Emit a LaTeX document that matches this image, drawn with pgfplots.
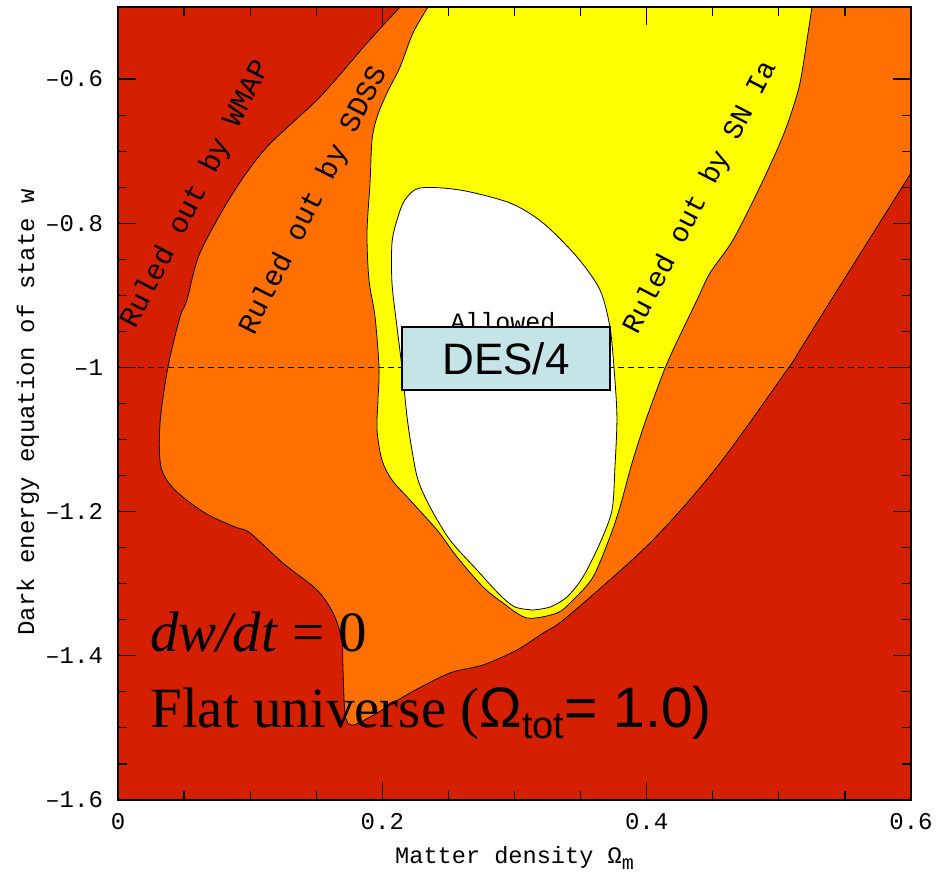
\documentclass[border=0pt]{standalone}
\usepackage{fontspec}
\usepackage{pgfplots}
\pgfplotsset{compat=1.18}
\setmainfont{Liberation Serif}
\newfontfamily\plotfont{Liberation Mono}
\newfontfamily\arialfont{Liberation Sans}

\definecolor{wmapred}{RGB}{212,32,0}
\definecolor{sdssorange}{RGB}{255,112,0}
\definecolor{snyellow}{RGB}{255,255,0}
\definecolor{desblue}{RGB}{196,228,232}

\begin{document}
\begin{tikzpicture}
\useasboundingbox (0,0) rectangle (474pt,438pt);
\begin{axis}[
  at={(59pt,38pt)}, anchor=south west,
  width=396.5pt, height=396.5pt, scale only axis,
  xmin=0, xmax=0.6, ymin=-1.6, ymax=-0.5,
  axis background/.style={fill=wmapred},
  axis on top,
  tick pos=both, tick align=inside,
  major tick length=9pt, minor tick length=4.5pt,
  tick style={black, line width=0.6pt},
  axis line style={black, line width=0.9pt},
  xtick={0,0.2,0.4,0.6},
  xticklabels={\mbox{0},\mbox{0.2},\mbox{0.4},\mbox{0.6}},
  ytick={-1.6,-1.4,-1.2,-1,-0.8,-0.6},
  yticklabels={\mbox{–1.6},\mbox{–1.4},\mbox{–1.2},\mbox{–1},\mbox{–0.8},\mbox{–0.6}},
  minor x tick num=3, minor y tick num=3,
  ticklabel style={font=\plotfont\fontsize{12}{12}\selectfont},
  xticklabel style={yshift=-3pt},
  yticklabel style={xshift=-4pt},
  xlabel={Matter density Ω\raisebox{-0.5ex}{\fontsize{10}{10}\selectfont m}},
  xlabel style={font=\plotfont\fontsize{11.8}{12}\selectfont, at={(axis description cs:0.5,-0.073)}, anchor=center},
  ylabel={Dark energy equation of state w},
  ylabel style={font=\plotfont\fontsize{12}{12}\selectfont, at={(axis description cs:-0.1135,0.489)}, anchor=center},
]
% region not excluded by SDSS
\addplot[draw=black, line width=0.4pt, fill=sdssorange, smooth, tension=0.5] coordinates {
 (0.62,-0.48) (0.62,-0.672) (0.6,-0.7303)
 (0.5410,-0.9023) (0.5160,-0.9758) (0.5062,-1.0035) (0.4532,-1.1381)
 (0.4025,-1.2435) (0.3397,-1.3462) (0.3216,-1.3684) (0.3019,-1.3919)
 (0.2762,-1.4127) (0.2512,-1.4238) (0.2209,-1.4516) (0.1960,-1.4793)
 (0.1780,-1.4960) (0.1720,-1.4830) (0.1702,-1.4155) (0.1695,-1.3781)
 (0.1627,-1.3406) (0.1506,-1.3087) (0.1248,-1.2713) (0.0999,-1.2296)
 (0.0885,-1.2213) (0.0658,-1.2019) (0.0431,-1.1700) (0.0325,-1.1381)
 (0.0318,-1.0771) (0.0378,-0.9994) (0.0469,-0.9300) (0.0522,-0.9064)
 (0.0620,-0.8413) (0.0870,-0.7580) (0.1127,-0.6942) (0.1528,-0.6249)
 (0.1884,-0.5500) (0.2134,-0.5) (0.2234,-0.48)
} -- cycle;
% region not excluded by SN Ia
\addplot[draw=black, line width=0.4pt, fill=snyellow, smooth, tension=0.5] coordinates {
 (0.5268,-0.48) (0.5251,-0.5) (0.5221,-0.5361)
 (0.5160,-0.6055) (0.5084,-0.6526) (0.5009,-0.6887) (0.4857,-0.7497)
 (0.4653,-0.8232) (0.4479,-0.8690) (0.4381,-0.9064) (0.4199,-0.9758)
 (0.4139,-1.0008) (0.4002,-1.0687) (0.3896,-1.1284) (0.3798,-1.1936)
 (0.3722,-1.2352) (0.3594,-1.2907) (0.3443,-1.3226) (0.3322,-1.3406)
 (0.3095,-1.3475) (0.2913,-1.3267) (0.2762,-1.3045) (0.2565,-1.2629)
 (0.2414,-1.2255) (0.2209,-1.1839) (0.2073,-1.1561) (0.1997,-1.1284)
 (0.1960,-1.0868) (0.1967,-1.0452) (0.1975,-1.0008) (0.1945,-0.9300)
 (0.1899,-0.8787) (0.1884,-0.8135) (0.1907,-0.7442) (0.1922,-0.6845)
 (0.1960,-0.6526) (0.2035,-0.6193) (0.2134,-0.5833) (0.2232,-0.5361)
 (0.2345,-0.5) (0.2408,-0.48)
} -- cycle;
% jointly allowed region
\addplot[draw=black, line width=0.4pt, fill=white, smooth, tension=0.5] coordinates {
 (0.3140,-1.3365) (0.3004,-1.3323) (0.2890,-1.3156) (0.2716,-1.2810)
 (0.2512,-1.2394) (0.2361,-1.1936) (0.2270,-1.1561) (0.2224,-1.1145)
 (0.2187,-1.0687) (0.2149,-1.0008) (0.2111,-0.9439) (0.2073,-0.8829)
 (0.2073,-0.8274) (0.2111,-0.7955) (0.2171,-0.7677) (0.2285,-0.7511)
 (0.2588,-0.7539) (0.2966,-0.7719) (0.3216,-0.7996) (0.3473,-0.8468)
 (0.3647,-0.8926) (0.3722,-0.9439) (0.3753,-1.0008) (0.3775,-1.0687)
 (0.3760,-1.1381) (0.3738,-1.1977) (0.3647,-1.2435) (0.3518,-1.2907)
 (0.3397,-1.3184) (0.3269,-1.3323) (0.3140,-1.3365)
} -- cycle;
% cosmological constant w = -1
\addplot[black, line width=0.5pt, dash pattern=on 3pt off 2pt] coordinates {(0,-1) (0.6,-1)};

\node[font=\plotfont\fontsize{14.5}{14.5}\selectfont, rotate=62.9] at (axis cs:0.0594,-0.760) {Ruled out by WMAP};
\node[font=\plotfont\fontsize{14.5}{14.5}\selectfont, rotate=63.2] at (axis cs:0.1483,-0.769) {Ruled out by SDSS};
\node[font=\plotfont\fontsize{14}{14}\selectfont, rotate=62.6] at (axis cs:0.4407,-0.7643) {Ruled out by SN Ia};
\node[font=\plotfont\fontsize{12.5}{12.5}\selectfont] at (axis cs:0.2913,-0.937) {Allowed};

% DES forecast label
\addplot[draw=black, line width=0.8pt, fill=desblue] coordinates {
 (0.2149,-0.9439) (0.3722,-0.9439) (0.3722,-1.0313) (0.2149,-1.0313)
} -- cycle;
\node[font=\arialfont\fontsize{22}{22}\selectfont] at (axis cs:0.2936,-0.9876) {DES/4};

\node[anchor=base west, font=\fontsize{28.5}{30}\selectfont, inner sep=0pt] at (axis cs:0.0242,-1.3947) {\textit{dw/dt} = 0};
\node[anchor=base west, font=\fontsize{28.5}{30}\selectfont, inner sep=0pt] at (axis cs:0.0242,-1.5001)
  {Flat universe ({\arialfont Ω\raisebox{-0.35ex}{\fontsize{19}{19}\selectfont tot}= 1.0)}};
\end{axis}
\end{tikzpicture}
\end{document}
